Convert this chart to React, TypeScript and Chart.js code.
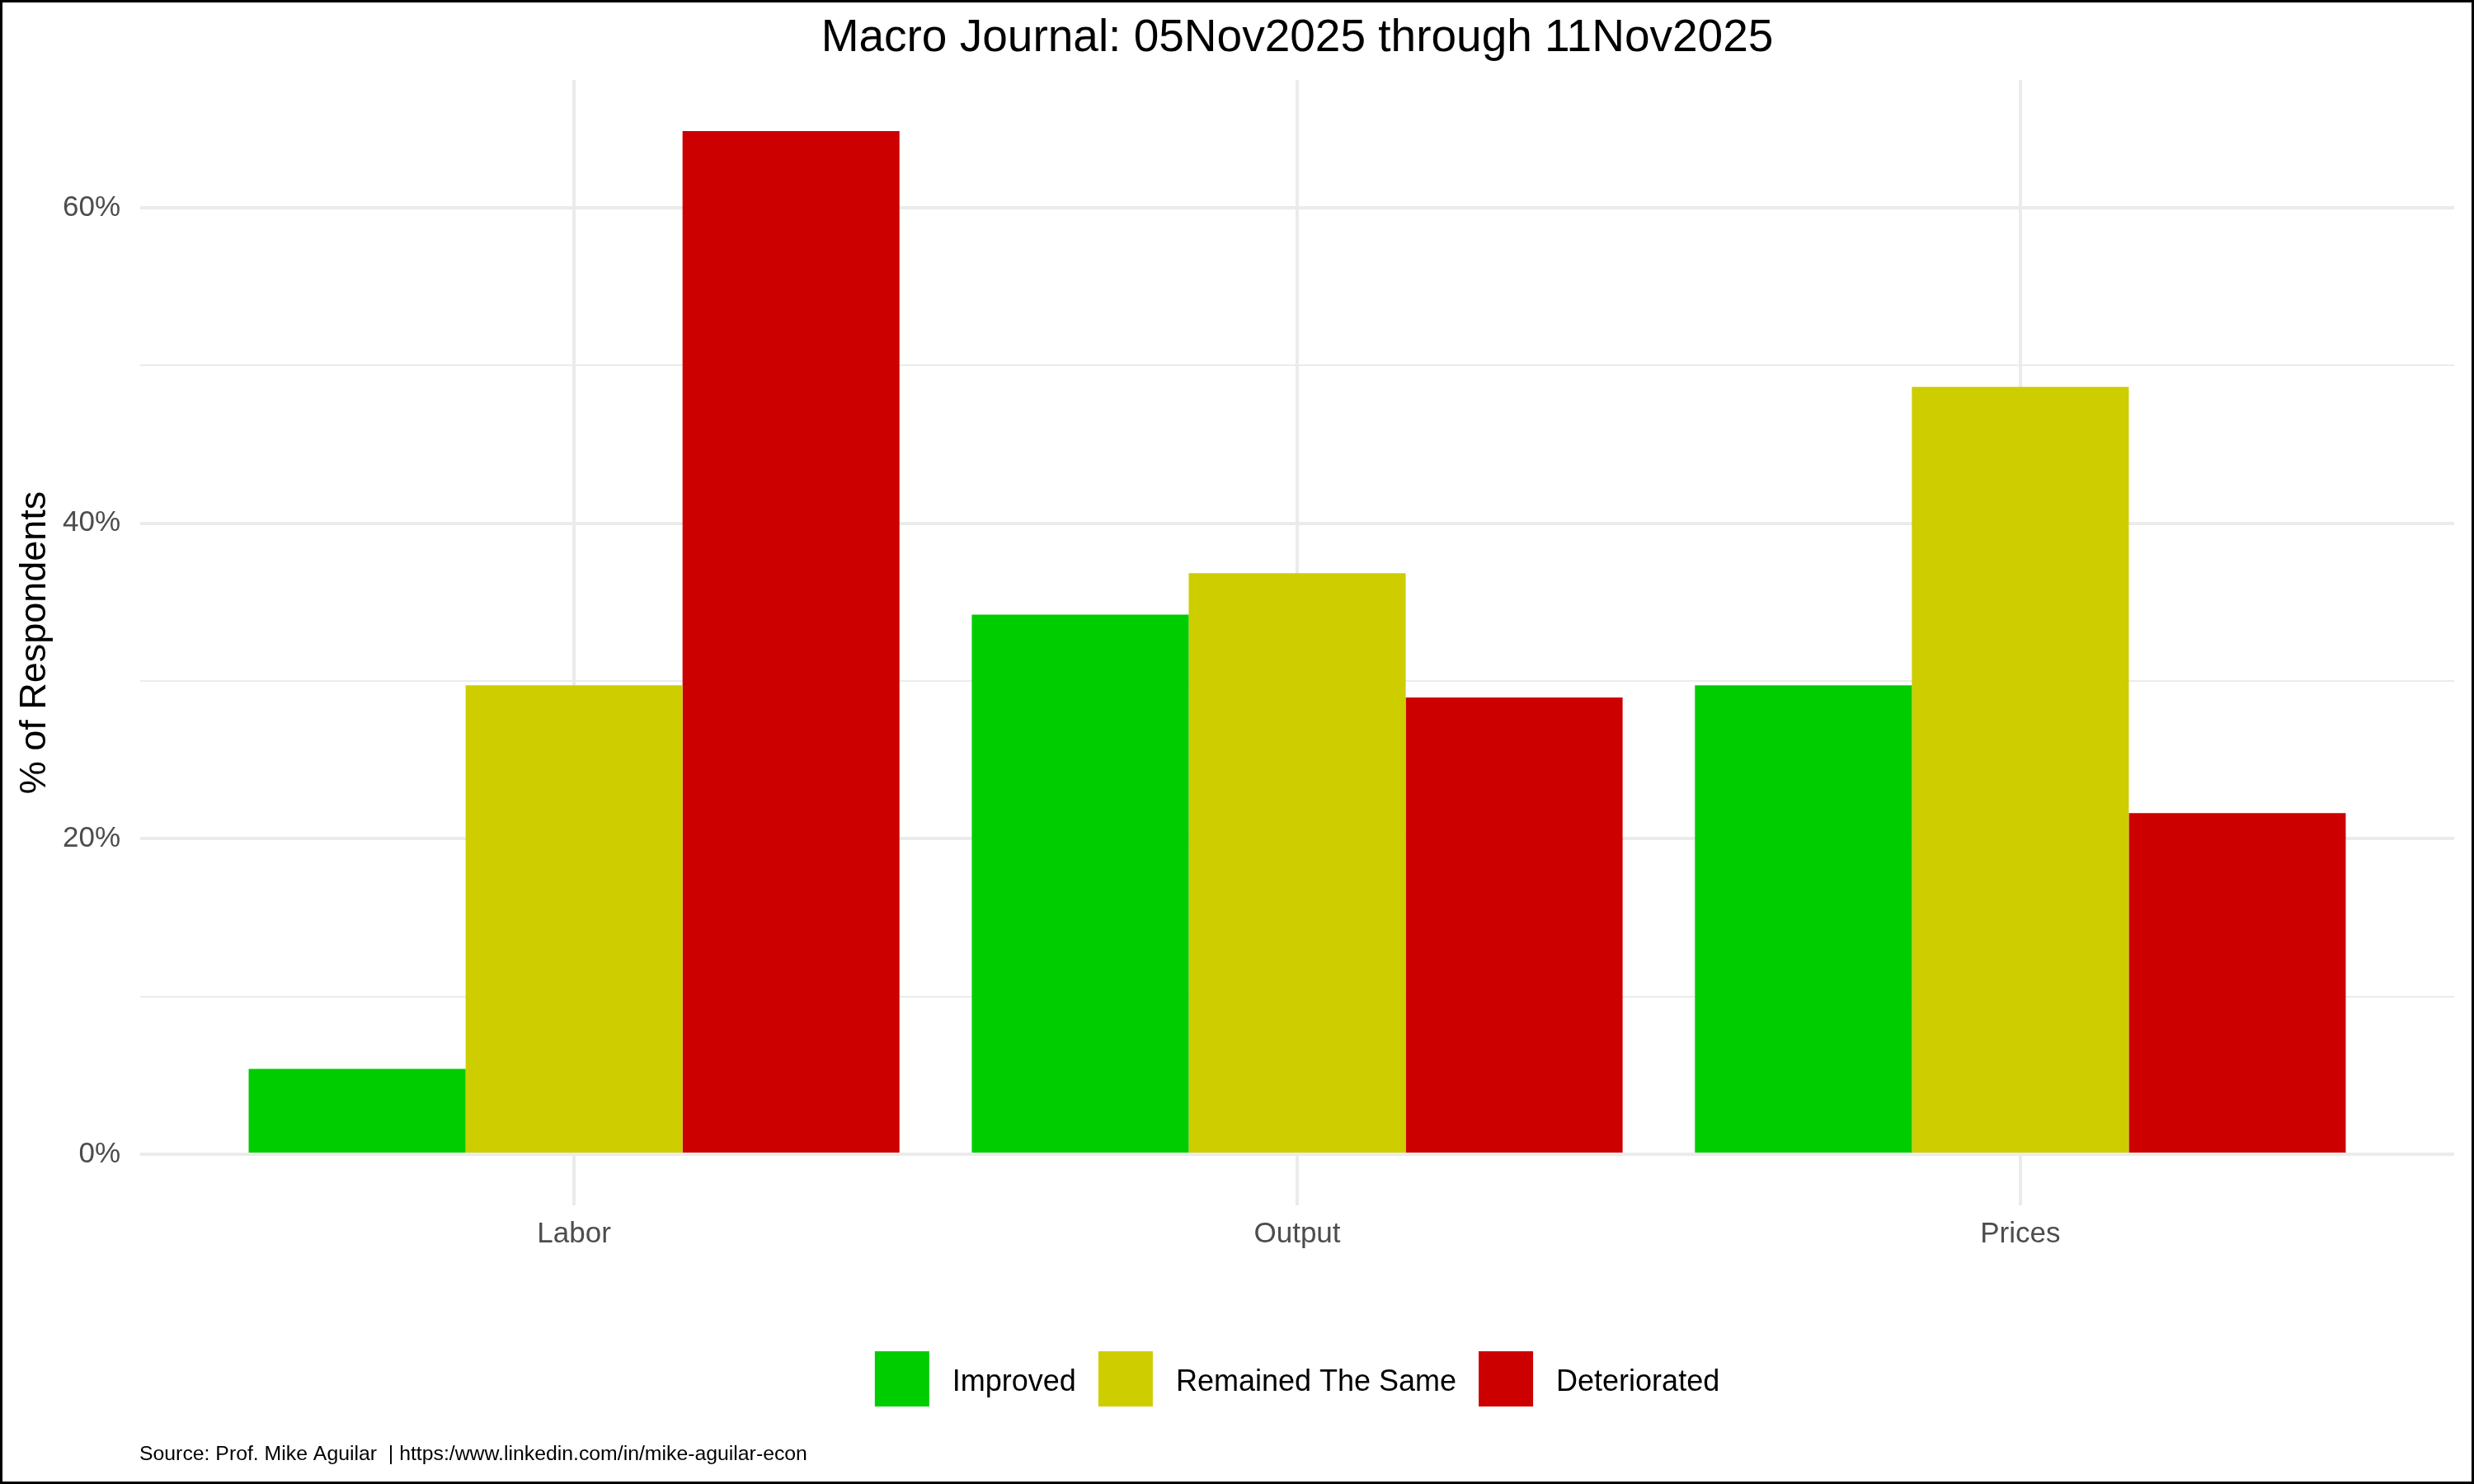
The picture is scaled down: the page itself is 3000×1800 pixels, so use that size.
import React, { useEffect, useRef } from "react";
import { Chart, registerables } from "chart.js";

Chart.register(...registerables);

const FONT = "'Liberation Sans', Arial, Helvetica, sans-serif";

const categories = ["Labor", "Output", "Prices"];
const seriesNames = ["Improved", "Remained The Same", "Deteriorated"];
const improved = [5.41, 34.21, 29.73];
const remainedSame = [29.73, 36.84, 48.65];
const deteriorated = [64.86, 28.95, 21.62];
const seriesColors = ["#00CD00", "#CDCD00", "#CD0000"];
const yTickValues = [0, 10, 20, 30, 40, 50, 60];
const yLabelledTicks = [0, 20, 40, 60];
const titleText = "Macro Journal: 05Nov2025 through 11Nov2025";
const yAxisTitle = "% of Respondents";
const captionText =
  "Source: Prof. Mike Aguilar  | https:/www.linkedin.com/in/mike-aguilar-econ";

const decorPlugin = {
  id: "decor",
  afterDraw(chart: any) {
    const { ctx, chartArea } = chart;
    const cx = (chartArea.left + chartArea.right) / 2;
    ctx.save();
    // title
    ctx.fillStyle = "#000";
    ctx.font = `55px ${FONT}`;
    ctx.textAlign = "center";
    ctx.textBaseline = "alphabetic";
    ctx.fillText(titleText, cx, 62);
    // legend
    ctx.font = `36px ${FONT}`;
    const items = chart.data.datasets.map((ds: any) => ({
      label: ds.label,
      color: ds.backgroundColor,
      w: ctx.measureText(ds.label).width,
    }));
    const box = 66;
    const boxH = 67;
    const gapText = 28;
    const gapItem = 27;
    const total =
      items.reduce((s: number, it: any) => s + box + gapText + it.w, 0) +
      gapItem * (items.length - 1);
    let x = cx - total / 2;
    const top = 1639;
    ctx.textAlign = "left";
    for (const it of items) {
      ctx.fillStyle = it.color;
      ctx.fillRect(x, top, box, boxH);
      x += box + gapText;
      ctx.fillStyle = "#000";
      ctx.fillText(it.label, x, 1687);
      x += it.w + gapItem;
    }
    // caption
    ctx.font = `24.8px ${FONT}`;
    ctx.fillStyle = "#000";
    ctx.fillText(captionText, 169, 1771);
    // frame
    ctx.strokeStyle = "#000";
    ctx.lineWidth = 3;
    ctx.strokeRect(1.5, 1.5, chart.width - 3, chart.height - 3);
    ctx.restore();
  },
};

export default function App() {
  const ref = useRef<HTMLCanvasElement>(null);

  useEffect(() => {
    document.body.style.margin = "0";
    const allValues = [...improved, ...remainedSame, ...deteriorated];
    const yMaxData = Math.max(...allValues);
    const yPad = yMaxData * 0.05;
    const series = [improved, remainedSame, deteriorated];

    const chart = new Chart(ref.current as HTMLCanvasElement, {
      type: "bar",
      data: {
        datasets: series.map((vals, si) => ({
          label: seriesNames[si],
          data: vals.map((v, i) => ({ x: i + 1, y: v })),
          backgroundColor: seriesColors[si],
          borderWidth: 0,
          categoryPercentage: 0.9,
          barPercentage: 1.0,
        })),
      },
      options: {
        animation: false,
        responsive: false,
        devicePixelRatio: 1,
        layout: { padding: { left: 0, top: 97, right: 24, bottom: 278 } },
        plugins: {
          legend: { display: false },
          tooltip: { enabled: false },
          title: { display: false },
        },
        scales: {
          x: {
            type: "linear",
            offset: false,
            min: 0.4,
            max: categories.length + 0.6,
            afterBuildTicks: (scale: any) => {
              scale.ticks = categories.map((_, i) => ({ value: i + 1 }));
            },
            afterFit: (scale: any) => {
              scale.height = 60;
            },
            grid: {
              color: "#ebebeb",
              lineWidth: 4,
              drawTicks: false,
              offset: false,
            },
            border: { display: false },
            ticks: {
              color: "#4d4d4d",
              font: { size: 35, family: FONT },
              padding: 14,
              maxRotation: 0,
              autoSkip: false,
              callback: (v: any) => categories[Math.round(Number(v)) - 1] ?? "",
            },
          },
          y: {
            type: "linear",
            min: -yPad,
            max: yMaxData + yPad,
            afterBuildTicks: (scale: any) => {
              scale.ticks = yTickValues.map((v) => ({ value: v }));
            },
            afterFit: (scale: any) => {
              scale.width = 170;
            },
            grid: {
              color: "#ebebeb",
              lineWidth: (c: any) =>
                yLabelledTicks.includes(c.tick?.value) ? 4 : 2,
              drawTicks: false,
            },
            border: { display: false },
            ticks: {
              color: "#4d4d4d",
              font: { size: 35, family: FONT },
              padding: 24,
              callback: (v: any) =>
                yLabelledTicks.includes(Number(v)) ? `${v}%` : "",
            },
            title: {
              display: true,
              text: yAxisTitle,
              color: "#000",
              font: { size: 45, family: FONT },
              padding: { top: 16, bottom: 0 },
            },
          },
        },
      },
      plugins: [decorPlugin],
    });
    return () => chart.destroy();
  }, []);

  return (
    <div style={{ width: 3000, height: 1800, background: "#fff" }}>
      <canvas
        ref={ref}
        width={3000}
        height={1800}
        style={{ display: "block", width: 3000, height: 1800 }}
      />
    </div>
  );
}
